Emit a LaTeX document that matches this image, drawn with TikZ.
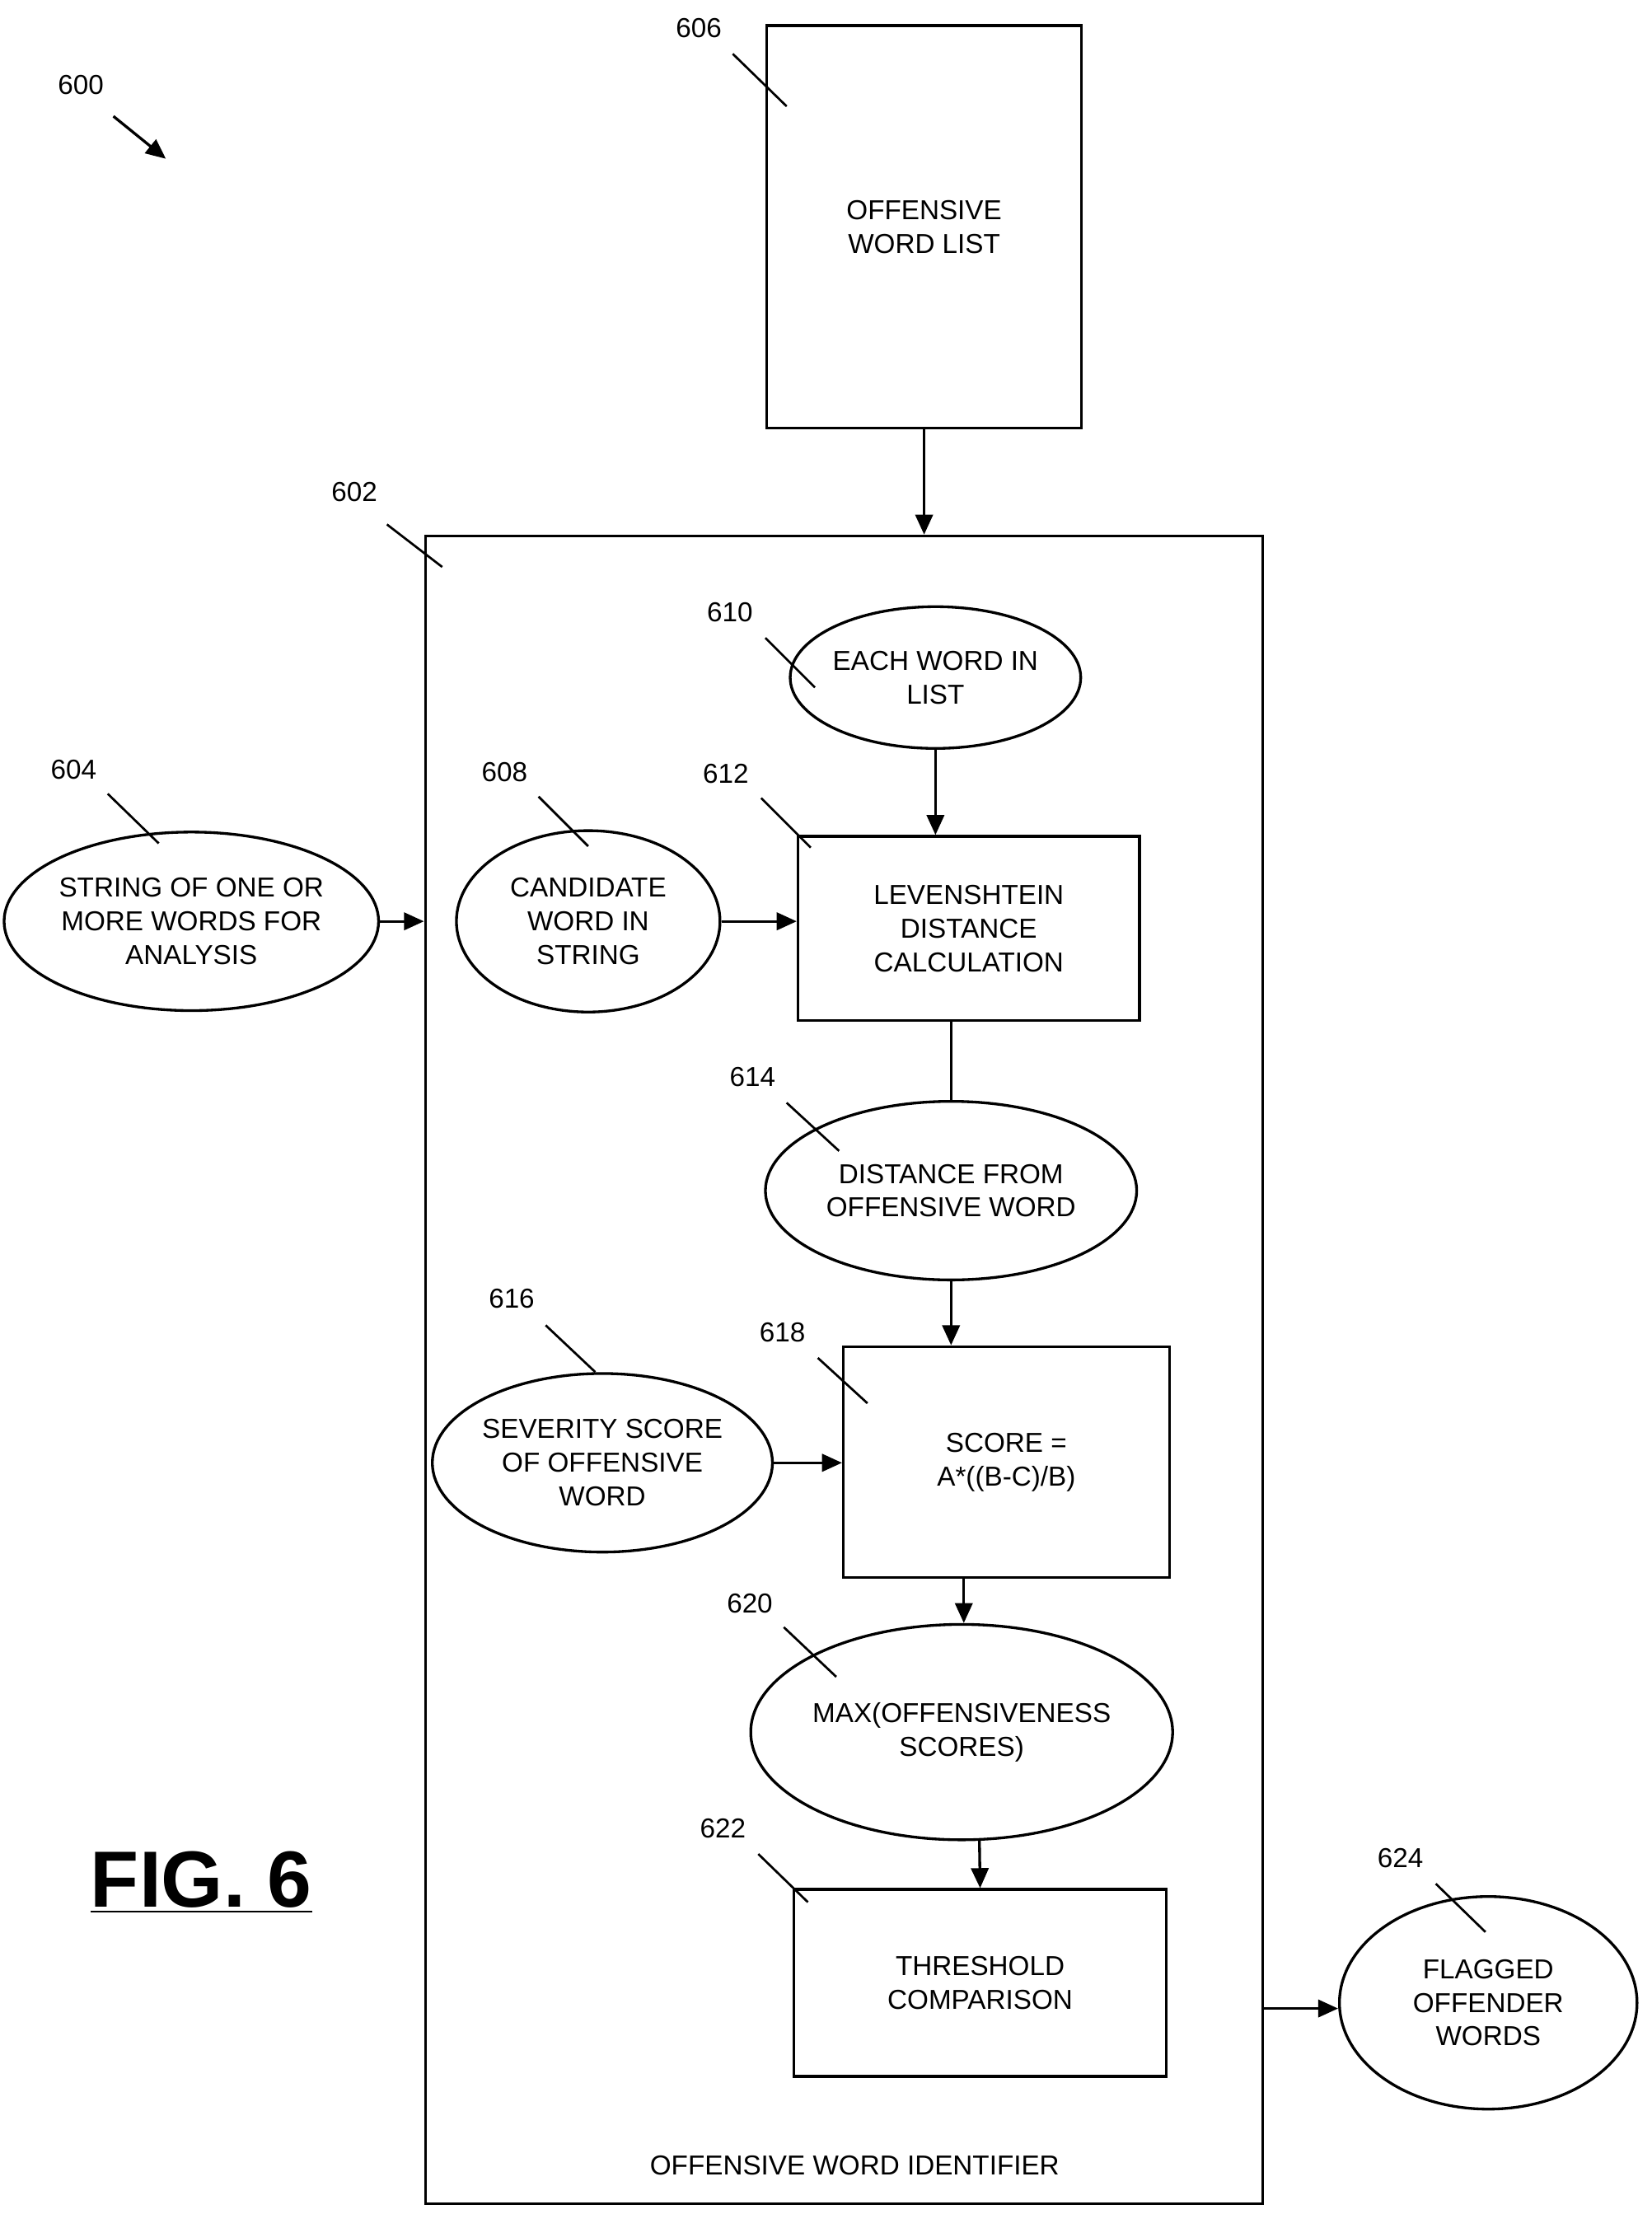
\documentclass[tikz,border=0pt]{standalone}
\usepackage{fontspec}
\setmainfont{Liberation Sans}
\usetikzlibrary{arrows.meta,shapes.geometric}
\tikzstyle{blk} = [rectangle, draw, line width=1.1pt, align=center]
\tikzstyle{oval} = [ellipse, draw, line width=1.1pt, align=center, inner sep=0pt]
\tikzstyle{flow} = [line width=1.1pt, -{Triangle[length=8pt,width=7pt]}]
\tikzstyle{lead} = [line width=0.9pt]

\begin{document}
\begin{tikzpicture}[x=0.02cm, y=-0.02cm, font=\fontsize{11pt}{13.5pt}\selectfont]
  \useasboundingbox (0, 0) rectangle (1165, 1562);
  % outer block
  \node[blk, minimum width=11.82cm, minimum height=23.54cm] (ident) at (595.5, 966.5) {};
  \node (identlbl) at (603, 1528) {OFFENSIVE WORD IDENTIFIER};
  \node[blk, minimum width=4.44cm, minimum height=5.68cm] (list) at (652, 160) {OFFENSIVE\\WORD LIST};
  % inner nodes
  \node[oval, minimum width=4cm, minimum height=2cm] (each) at (660, 478) {EACH WORD IN\\LIST};
  \node[blk, minimum width=4.82cm, minimum height=2.6cm] (lev) at (683.5, 655) {LEVENSHTEIN\\DISTANCE\\CALCULATION};
  \node[oval, minimum width=3.72cm, minimum height=2.56cm] (cand) at (415, 650) {CANDIDATE\\WORD IN\\STRING};
  \node[oval, minimum width=4.88cm, minimum height=2.52cm] (str) at (135, 650) {STRING OF ONE OR\\MORE WORDS FOR\\ANALYSIS};
  \node[oval, minimum width=5.24cm, minimum height=2.52cm] (dist) at (671, 840) {DISTANCE FROM\\OFFENSIVE WORD};
  \node[blk, minimum width=4.6cm, minimum height=3.26cm] (score) at (710, 1031.5) {SCORE =\\A*((B-C)/B)};
  \node[oval, minimum width=4.6cm, minimum height=2.52cm] (sev) at (425, 1032) {SEVERITY SCORE\\OF OFFENSIVE\\WORD};
  \node[oval, minimum width=5.54cm, minimum height=3.04cm] (max) at (678.5, 1222) {MAX(OFFENSIVENESS\\SCORES)};
  \node[blk, minimum width=5.26cm, minimum height=2.64cm] (thr) at (691.5, 1399) {THRESHOLD\\COMPARISON};
  \node[oval, minimum width=4.2cm, minimum height=3cm] (flag) at (1050, 1413) {FLAGGED\\OFFENDER\\WORDS};
  % connectors
  \draw[flow] (list.south) -- (list.south |- ident.north);
  \draw[flow] (each.south) -- (each.south |- lev.north);
  \draw[flow] (cand.east) -- (lev.west |- cand.east);
  \draw[flow] (str.east) -- (ident.west |- str.east);
  \draw[line width=1.1pt] (dist.north |- lev.south) -- (dist.north);
  \draw[flow] (dist.south) -- (dist.south |- score.north);
  \draw[flow] (sev.east) -- (score.west |- sev.east);
  \coordinate (sb) at (680, 1113);
  \draw[flow] (sb) -- (sb |- max.north);
  \coordinate (mb) at (691, 1298);
  \draw[flow] (mb) -- (thr.north);
  \coordinate (ir) at (891, 1417);
  \draw[flow] (ir) -- (flag.west |- ir);
  % reference numerals
  \foreach \n/\x/\y/\a/\b/\c/\d in {606/493/20/517/38/555/75, 602/250/347/273/370/312/400,
      610/515/432/540/450/575/485, 604/52/543/76/560/112/595, 608/356/545/380/562/415/597,
      612/512/546/537/563/572/598, 614/531/760/555/778/592/812, 616/361/916/385/935/420/968,
      618/552/940/577/958/612/990, 620/529/1131/553/1148/590/1183, 622/510/1290/535/1308/570/1342,
      624/988/1311/1013/1329/1048/1363} {
    \node (n\n) at (\x, \y) {\n};
    \draw[lead] (\a, \b) -- (\c, \d);
  }
  \node (n600) at (57, 60) {600};
  \draw[flow] (80, 82) -- (117, 112);
  \node (fig) at (142, 1328) {\fontsize{32pt}{36pt}\selectfont\bfseries\underline{FIG. 6}};
\end{tikzpicture}
\end{document}
